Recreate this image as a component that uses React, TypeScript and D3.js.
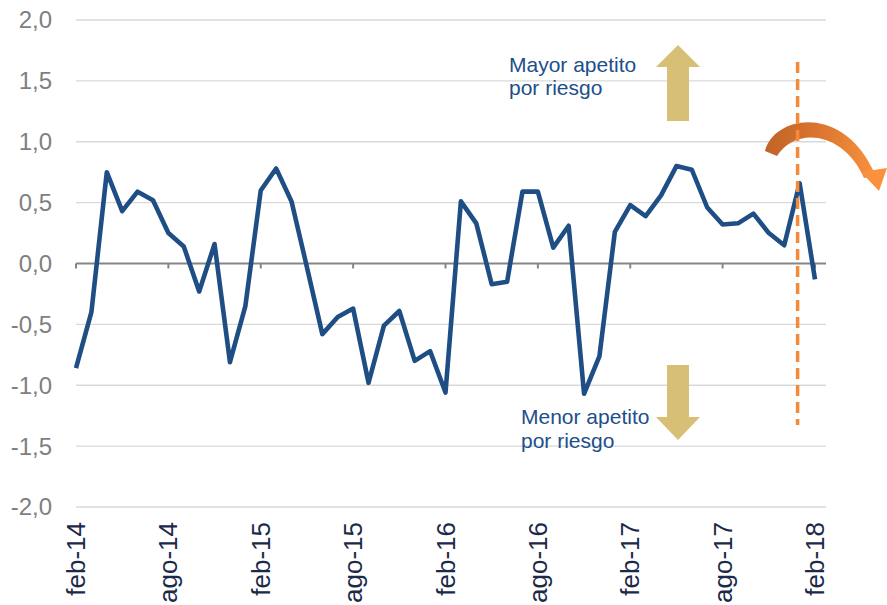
import * as d3 from "d3";

const months = [
  "feb-14", "mar-14", "abr-14", "may-14", "jun-14", "jul-14", "ago-14", "sep-14", "oct-14", "nov-14", "dic-14", "ene-15",
  "feb-15", "mar-15", "abr-15", "may-15", "jun-15", "jul-15", "ago-15", "sep-15", "oct-15", "nov-15", "dic-15", "ene-16",
  "feb-16", "mar-16", "abr-16", "may-16", "jun-16", "jul-16", "ago-16", "sep-16", "oct-16", "nov-16", "dic-16", "ene-17",
  "feb-17", "mar-17", "abr-17", "may-17", "jun-17", "jul-17", "ago-17", "sep-17", "oct-17", "nov-17", "dic-17", "ene-18",
  "feb-18",
];

const appetite = [
  -0.86, -0.4, 0.75, 0.43, 0.59, 0.52, 0.25, 0.14, -0.23, 0.16, -0.81, -0.35,
  0.6, 0.78, 0.51, -0.03, -0.58, -0.44, -0.37, -0.98, -0.51, -0.39, -0.8, -0.72,
  -1.06, 0.51, 0.33, -0.17, -0.15, 0.59, 0.59, 0.13, 0.31, -1.07, -0.76, 0.26,
  0.48, 0.39, 0.56, 0.8, 0.77, 0.46, 0.32, 0.33, 0.41, 0.25, 0.15, 0.66,
  -0.13,
];

const yTicks = [2, 1.5, 1, 0.5, 0, -0.5, -1, -1.5, -2];
const labelEvery = 6;
const markerMonth = "ene-18";

const W = 887;
const H = 605;

export default function App() {
  const x = d3.scalePoint<string>().domain(months).range([76, 815]);
  const y = d3.scaleLinear().domain([-2, 2]).range([507, 20]);
  const fmt = (v: number) => d3.format(".1f")(v).replace(".", ",").replace("−", "-");

  const line = d3
    .line<number>()
    .x((_, i) => x(months[i]) as number)
    .y((d) => y(d));

  const tickMonths = months.filter((_, i) => i % labelEvery === 0);
  const mx = (x(markerMonth) as number) - 2;

  return (
    <svg
      width={W}
      height={H}
      style={{ position: "absolute", left: 0, top: 0, fontFamily: "Arial, 'Liberation Sans', sans-serif" }}
    >
      <defs>
        <linearGradient id="curveGrad" x1="0" x2="1" y1="0" y2="0">
          <stop offset="0" stopColor="#BF6428" />
          <stop offset="0.45" stopColor="#D9732F" />
          <stop offset="1" stopColor="#F8923E" />
        </linearGradient>
      </defs>

      {/* grid */}
      {yTicks.map((t) => (
        <g key={t}>
          {t !== 0 && (
            <line x1={76} x2={826} y1={y(t)} y2={y(t)} stroke="#d9d9d9" strokeWidth={1.3} />
          )}
          <text x={52} y={y(t)} dy="0.35em" textAnchor="end" fontSize={24} fill="#7f7f7f">
            {fmt(t)}
          </text>
        </g>
      ))}

      {/* zero axis */}
      <line x1={76} x2={826} y1={y(0)} y2={y(0)} stroke="#858585" strokeWidth={2} />
      {tickMonths.map((m) => (
        <line key={m} x1={x(m)} x2={x(m)} y1={y(0)} y2={y(0) + 5} stroke="#858585" strokeWidth={2} />
      ))}

      {/* x labels */}
      {tickMonths.map((m) => (
        <text
          key={m}
          transform={`translate(${(x(m) as number) + 9},522) rotate(-90)`}
          textAnchor="end"
          fontSize={26}
          fill="#1b2a48"
        >
          {m}
        </text>
      ))}

      {/* up / down arrows */}
      <polygon points="667,121 689,121 689,67 700,67 678,45 656,67 667,67" fill="#D8BF76" />
      <polygon points="667,365 689,365 689,417 700,417 678,440 656,417 667,417" fill="#D8BF76" />

      <g fill="#1c4f8a" fontSize={21}>
        <text x={509} y={72}>Mayor apetito</text>
        <text x={509} y={95}>por riesgo</text>
        <text x={521} y={424}>Menor apetito</text>
        <text x={521} y={448}>por riesgo</text>
      </g>

      {/* series */}
      <path d={line(appetite) ?? ""} fill="none" stroke="#1f4e85" strokeWidth={4.6} strokeLinejoin="round" />

      {/* curved arrow */}
      <path
        d="M765,151 C774,116 840,104 872,168 L876,176 L864,178 C844,132 796,126 777,156 Z"
        fill="url(#curveGrad)"
      />
      <polygon points="861,172 887,168 879,191" fill="#F8923E" />

      {/* dashed marker */}
      <line x1={mx} x2={mx} y1={62} y2={425} stroke="#F58B3A" strokeWidth={3.5} strokeDasharray="11,6" />
    </svg>
  );
}
